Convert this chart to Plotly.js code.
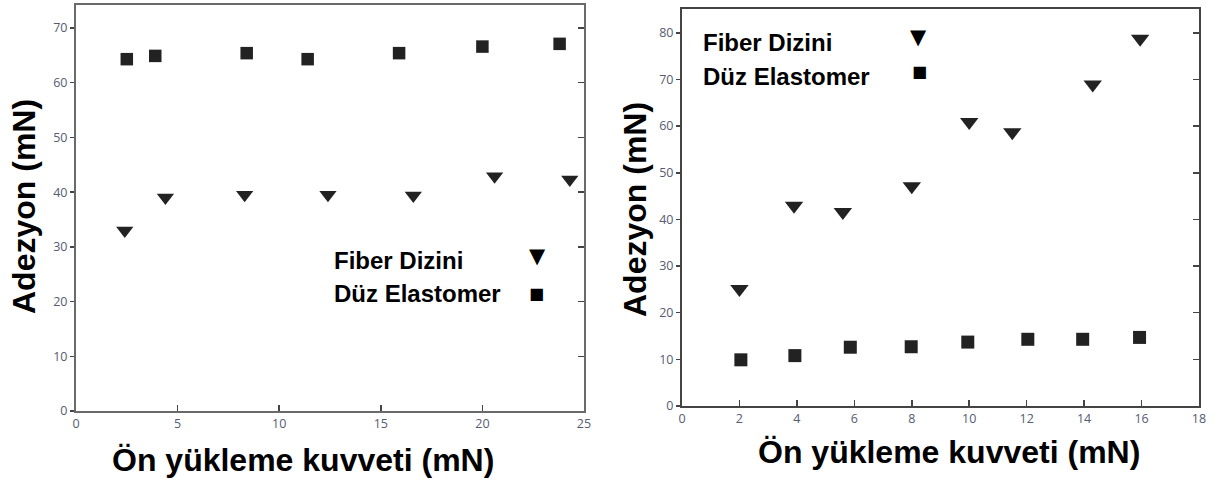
<!DOCTYPE html>
<html>
<head>
<meta charset="utf-8">
<script src="https://cdn.plot.ly/plotly-3.0.1.min.js"></script>
<style>html,body{margin:0;padding:0;background:#fff;}#chart{width:1230px;height:484px;}</style>
</head>
<body>
<div id="chart"></div>
<script>
// ---- data ----
// Left panel
const leftFiberX = [2.4, 4.4, 8.3, 12.4, 16.6, 20.6, 24.3];
const leftFiberY = [33.0, 39.0, 39.5, 39.5, 39.4, 42.9, 42.3];
const leftFlatX  = [2.5, 3.9, 8.4, 11.4, 15.9, 20.0, 23.8];
const leftFlatY  = [64.3, 64.9, 65.4, 64.3, 65.4, 66.6, 67.1];
// Right panel
const rightFiberX = [2.0, 3.9, 5.6, 8.0, 10.0, 11.5, 14.3, 15.95];
const rightFiberY = [25.1, 42.9, 41.6, 47.1, 60.9, 58.7, 68.9, 78.7];
const rightFlatX  = [2.05, 3.93, 5.86, 7.98, 9.95, 12.04, 13.95, 15.93];
const rightFlatY  = [9.9, 10.8, 12.6, 12.7, 13.7, 14.3, 14.3, 14.7];

const seriesNames = ["Fiber Dizini", "Düz Elastomer"];
const xTitle = "Ön yükleme kuvveti (mN)";
const yTitle = "Adezyon (mN)";
const leftXRange = [0, 25], leftYRange = [0, 74.2];
const rightXRange = [0, 18], rightYRange = [0, 85.1];

// ---- styling ----
const W = 1230, H = 484;
const px = v => v / W, py = v => 1 - v / H;
const markColor = "#222222";
const tickFont = {family: "Open Sans, DejaVu Sans, sans-serif", size: 12.5, color: "#555b70"};
const titleFont = {family: "Liberation Sans, Arial, sans-serif", size: 32, color: "#000"};
const legFont = {family: "Liberation Sans, Arial, sans-serif", size: 24, color: "#000"};
const triGlyphFont = {family: "DejaVu Sans, sans-serif", size: 21, color: "#000"};
const sqGlyphFont = {family: "DejaVu Sans, sans-serif", size: 16, color: "#000"};

function tri(x, y, xa, ya, size) {
  return {x, y, xaxis: xa, yaxis: ya, type: "scatter", mode: "markers", name: seriesNames[0], showlegend: false,
    marker: {symbol: "triangle-down", size, color: markColor, line: {width: 0}}};
}
function sq(x, y, xa, ya, size) {
  return {x, y, xaxis: xa, yaxis: ya, type: "scatter", mode: "markers", name: seriesNames[1], showlegend: false,
    marker: {symbol: "square", size, color: markColor, line: {width: 0}}};
}
const data = [
  tri(leftFiberX, leftFiberY, "x", "y", 15),
  sq(leftFlatX, leftFlatY, "x", "y", 12.5),
  tri(rightFiberX, rightFiberY, "x2", "y2", 16),
  sq(rightFlatX, rightFlatY, "x2", "y2", 13),
  {x: [], y: [], xaxis: "x", yaxis: "y3", type: "scatter", showlegend: false},
  {x: [], y: [], xaxis: "x2", yaxis: "y4", type: "scatter", showlegend: false}
];

function xax(range, dtick, domain, anchor, lc) {
  return {range, dtick, domain, anchor, showgrid: false, zeroline: false, showline: true, linecolor: lc, linewidth: 2,
    mirror: true, ticks: "inside", ticklen: 6, tickwidth: 1.5, tickcolor: "#444", tickfont: tickFont, fixedrange: true};
}
function yax(range, domain, anchor, lc) {
  return {range, dtick: 10, domain, anchor, showgrid: false, zeroline: false, showline: true, linecolor: lc, linewidth: 2,
    mirror: true, ticks: "outside", ticklen: 4, tickwidth: 1.5, tickcolor: "#444", tickfont: tickFont, fixedrange: true};
}
function yRight(range, overlay, anchor) {
  return {range, dtick: 10, overlaying: overlay, anchor, side: "right", showgrid: false, zeroline: false, showline: false,
    ticks: "inside", ticklen: 6, tickwidth: 1.5, tickcolor: "#444", showticklabels: false, fixedrange: true};
}

const lDomX = [px(76), px(584)], lDomY = [py(411), py(5)];
const rDomX = [px(682), px(1199)], rDomY = [py(406), py(9)];

function ann(text, x, y, font, extra) {
  return Object.assign({text, x: px(x), y: py(y), xref: "paper", yref: "paper", showarrow: false, font}, extra || {});
}

const layout = {
  width: W, height: H, margin: {l: 0, r: 0, t: 0, b: 0},
  paper_bgcolor: "#fff", plot_bgcolor: "#fff", showlegend: false,
  xaxis: xax(leftXRange, 5, lDomX, "y", "#6a6a6a"),
  yaxis: yax(leftYRange, lDomY, "x", "#6a6a6a"),
  yaxis3: yRight(leftYRange, "y", "x"),
  xaxis2: xax(rightXRange, 2, rDomX, "y2", "#444"),
  yaxis2: yax(rightYRange, rDomY, "x2", "#444"),
  yaxis4: yRight(rightYRange, "y2", "x2"),
  annotations: [
    ann("<b>" + xTitle + "</b>", 303, 460, titleFont, {xanchor: "center", yanchor: "middle"}),
    ann("<b>" + xTitle + "</b>", 949, 452, titleFont, {xanchor: "center", yanchor: "middle"}),
    ann("<b>" + yTitle + "</b>", 24, 207, titleFont, {xanchor: "center", yanchor: "middle", textangle: -90}),
    ann("<b>" + yTitle + "</b>", 635, 210, titleFont, {xanchor: "center", yanchor: "middle", textangle: -90}),
    // left legend
    ann("<b>" + seriesNames[0] + "</b>", 332, 260, legFont, {xanchor: "left", yanchor: "middle"}),
    ann("<b>" + seriesNames[1] + "</b>", 332, 293, legFont, {xanchor: "left", yanchor: "middle"}),
    ann("▼", 537, 256, triGlyphFont, {xanchor: "center", yanchor: "middle"}),
    ann("■", 536, 293, sqGlyphFont, {xanchor: "center", yanchor: "middle"}),
    // right legend
    ann("<b>" + seriesNames[0] + "</b>", 701, 42, legFont, {xanchor: "left", yanchor: "middle"}),
    ann("<b>" + seriesNames[1] + "</b>", 701, 76, legFont, {xanchor: "left", yanchor: "middle"}),
    ann("▼", 918, 37, triGlyphFont, {xanchor: "center", yanchor: "middle"}),
    ann("■", 919, 72, sqGlyphFont, {xanchor: "center", yanchor: "middle"})
  ]
};

Plotly.newPlot("chart", data, layout, {displayModeBar: false, staticPlot: true});
</script>
</body>
</html>
